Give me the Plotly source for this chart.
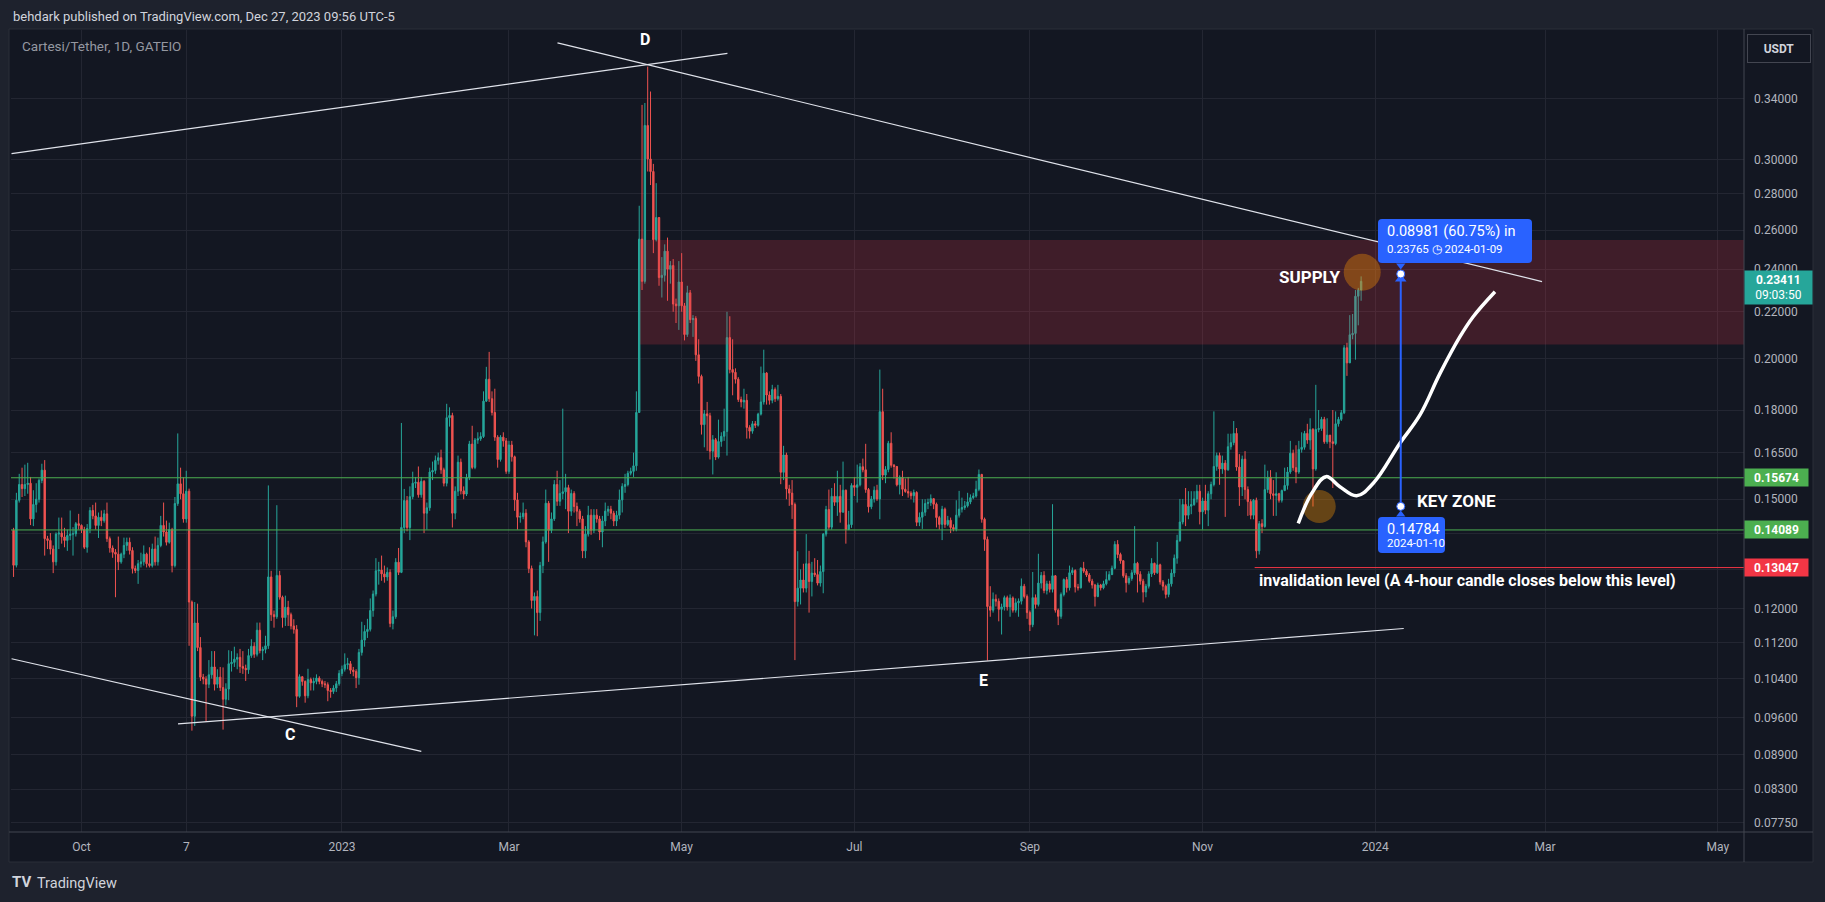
import math
import pandas as pd
import plotly.graph_objects as go

# ---------------- data (daily CTSI/USDT) ----------------
start_date = "2022-09-07"
first_open = 0.1408

close = [
    # Sep 2022 (7-30)
    0.1311, 0.1497, 0.1546, 0.1533, 0.1546, 0.1550, 0.1441, 0.1484, 0.1500, 0.1559, 0.1592, 0.1384,
    0.1379, 0.1355, 0.1320, 0.1397, 0.1400, 0.1389, 0.1379, 0.1393, 0.1397, 0.1398, 0.1427, 0.1422,
    # Oct 2022
    0.1410, 0.1360, 0.1413, 0.1466, 0.1450, 0.1422, 0.1446, 0.1436, 0.1456, 0.1384, 0.1358, 0.1346,
    0.1341, 0.1320, 0.1341, 0.1365, 0.1374, 0.1351, 0.1302, 0.1297, 0.1315, 0.1320, 0.1341, 0.1315,
    0.1310, 0.1355, 0.1320, 0.1365, 0.1422, 0.1403, 0.1374,
    # Nov 2022
    0.1410, 0.1310, 0.1487, 0.1548, 0.1517, 0.1441, 0.1525, 0.1216, 0.0963, 0.1165, 0.1108, 0.1043,
    0.1039, 0.1028, 0.1048, 0.1065, 0.1028, 0.1043, 0.1021, 0.0997, 0.1018, 0.1072, 0.1075, 0.1082,
    0.1086, 0.1066, 0.1062, 0.1059, 0.1090, 0.1111,
    # Dec 2022
    0.1093, 0.1148, 0.1101, 0.1104, 0.1112, 0.1280, 0.1185, 0.1180, 0.1284, 0.1228, 0.1178, 0.1203,
    0.1185, 0.1158, 0.1150, 0.1003, 0.1044, 0.1034, 0.1004, 0.1038, 0.1031, 0.1034, 0.1041, 0.1034,
    0.1029, 0.1027, 0.1015, 0.1013, 0.1020, 0.1029, 0.1051,
    # Jan 2023
    0.1060, 0.1070, 0.1072, 0.1058, 0.1055, 0.1042, 0.1097, 0.1125, 0.1145, 0.1150, 0.1195, 0.1236,
    0.1296, 0.1298, 0.1288, 0.1280, 0.1292, 0.1164, 0.1180, 0.1319, 0.1292, 0.1416, 0.1496, 0.1416,
    0.1508, 0.1550, 0.1553, 0.1514, 0.1556, 0.1458, 0.1474,
    # Feb 2023
    0.1586, 0.1591, 0.1624, 0.1633, 0.1593, 0.1550, 0.1772, 0.1780, 0.1458, 0.1525, 0.1618, 0.1526,
    0.1516, 0.1568, 0.1679, 0.1601, 0.1693, 0.1697, 0.1705, 0.1833, 0.1917, 0.1842, 0.1791, 0.1703,
    0.1627, 0.1703, 0.1690, 0.1588,
    # Mar 2023
    0.1676, 0.1636, 0.1498, 0.1446, 0.1448, 0.1458, 0.1375, 0.1302, 0.1220, 0.1230, 0.1190, 0.1310,
    0.1375, 0.1488, 0.1408, 0.1441, 0.1546, 0.1494, 0.1518, 0.1523, 0.1536, 0.1464, 0.1518, 0.1478,
    0.1464, 0.1441, 0.1350, 0.1397, 0.1452, 0.1408, 0.1452,
    # Apr 2023
    0.1441, 0.1403, 0.1435, 0.1464, 0.1470, 0.1458, 0.1435, 0.1452, 0.1498, 0.1540, 0.1546, 0.1582,
    0.1588, 0.1606, 0.1791, 0.2552, 0.2341, 0.3219, 0.3006, 0.2930, 0.2549, 0.2667, 0.2359, 0.2370,
    0.2490, 0.2400, 0.2418, 0.2235, 0.2227, 0.2338,
    # May 2023
    0.2227, 0.2100, 0.2287, 0.2165, 0.2170, 0.2015, 0.1928, 0.1747, 0.1786, 0.1779, 0.1655, 0.1694,
    0.1635, 0.1688, 0.1706, 0.1723, 0.2087, 0.1955, 0.1944, 0.1917, 0.1839, 0.1830, 0.1836, 0.1737,
    0.1724, 0.1750, 0.1745, 0.1785, 0.1830, 0.1941, 0.1856,
    # Jun 2023
    0.1836, 0.1877, 0.1842, 0.1851, 0.1585, 0.1642, 0.1532, 0.1519, 0.1484, 0.1217, 0.1251, 0.1272,
    0.1251, 0.1315, 0.1268, 0.1290, 0.1286, 0.1264, 0.1294, 0.1397, 0.1469, 0.1417, 0.1509, 0.1491,
    0.1509, 0.1461, 0.1528, 0.1410, 0.1424, 0.1543,
    # Jul 2023
    0.1537, 0.1545, 0.1603, 0.1593, 0.1530, 0.1477, 0.1501, 0.1528, 0.1501, 0.1794, 0.1576, 0.1594,
    0.1682, 0.1608, 0.1604, 0.1545, 0.1569, 0.1531, 0.1524, 0.1519, 0.1511, 0.1521, 0.1431, 0.1446,
    0.1461, 0.1487, 0.1490, 0.1502, 0.1485, 0.1445, 0.1425,
    # Aug 2023
    0.1470, 0.1425, 0.1437, 0.1416, 0.1411, 0.1452, 0.1470, 0.1475, 0.1480, 0.1492, 0.1505, 0.1510,
    0.1531, 0.1578, 0.1440, 0.1382, 0.1205, 0.1196, 0.1223, 0.1218, 0.1198, 0.1204, 0.1227, 0.1204,
    0.1226, 0.1196, 0.1214, 0.1218, 0.1256, 0.1230, 0.1190,
    # Sep 2023
    0.1161, 0.1227, 0.1210, 0.1264, 0.1284, 0.1245, 0.1262, 0.1248, 0.1283, 0.1196, 0.1181, 0.1235,
    0.1273, 0.1252, 0.1291, 0.1297, 0.1254, 0.1252, 0.1303, 0.1295, 0.1285, 0.1269, 0.1259, 0.1230,
    0.1259, 0.1252, 0.1262, 0.1273, 0.1286, 0.1303,
    # Oct 2023
    0.1368, 0.1340, 0.1323, 0.1283, 0.1265, 0.1276, 0.1291, 0.1316, 0.1287, 0.1269, 0.1241, 0.1256,
    0.1288, 0.1316, 0.1291, 0.1312, 0.1267, 0.1256, 0.1235, 0.1262, 0.1290, 0.1330, 0.1379, 0.1432,
    0.1484, 0.1452, 0.1479, 0.1484, 0.1501, 0.1525, 0.1462,
    # Nov 2023
    0.1495, 0.1467, 0.1517, 0.1546, 0.1604, 0.1640, 0.1596, 0.1615, 0.1593, 0.1670, 0.1684, 0.1716,
    0.1602, 0.1538, 0.1628, 0.1530, 0.1493, 0.1452, 0.1497, 0.1350, 0.1427, 0.1419, 0.1530, 0.1569,
    0.1517, 0.1512, 0.1517, 0.1497, 0.1527, 0.1543,
    # Dec 2023 (1-27)
    0.1586, 0.1648, 0.1600, 0.1586, 0.1661, 0.1668, 0.1716, 0.1693, 0.1730, 0.1596, 0.1730, 0.1733,
    0.1766, 0.1687, 0.1710, 0.1687, 0.1681, 0.1750, 0.1766, 0.1790, 0.2044, 0.1982, 0.2099, 0.2105,
    0.2271, 0.2300, 0.23411,
]

high = [
    # Sep 2022
    0.1415, 0.1520, 0.1580, 0.1600, 0.1610, 0.1616, 0.1570, 0.1528, 0.1550, 0.1565, 0.1613, 0.1625,
    0.1392, 0.1400, 0.1365, 0.1402, 0.1445, 0.1445, 0.1415, 0.1410, 0.1466, 0.1417, 0.1432, 0.1456,
    # Oct 2022
    0.1425, 0.1418, 0.1426, 0.1476, 0.1483, 0.1490, 0.1460, 0.1466, 0.1468, 0.1490, 0.1390, 0.1365,
    0.1355, 0.1390, 0.1345, 0.1387, 0.1387, 0.1387, 0.1360, 0.1310, 0.1325, 0.1345, 0.1365, 0.1345,
    0.1360, 0.1370, 0.1390, 0.1387, 0.1450, 0.1490, 0.1436,
    # Nov 2022
    0.1430, 0.1415, 0.1507, 0.1716, 0.1600, 0.1569, 0.1590, 0.1533, 0.1220, 0.1216, 0.1212, 0.1132,
    0.1050, 0.1045, 0.1080, 0.1100, 0.1100, 0.1060, 0.1065, 0.1064, 0.1030, 0.1102, 0.1100, 0.1110,
    0.1095, 0.1105, 0.1100, 0.1070, 0.1105, 0.1127,
    # Dec 2022
    0.1120, 0.1166, 0.1166, 0.1110, 0.1135, 0.1543, 0.1296, 0.1195, 0.1482, 0.1296, 0.1232, 0.1232,
    0.1219, 0.1190, 0.1174, 0.1160, 0.1049, 0.1045, 0.1036, 0.1061, 0.1042, 0.1042, 0.1049, 0.1045,
    0.1038, 0.1035, 0.1032, 0.1020, 0.1026, 0.1035, 0.1058,
    # Jan 2023
    0.1068, 0.1095, 0.1085, 0.1078, 0.1065, 0.1060, 0.1105, 0.1168, 0.1160, 0.1175, 0.1225, 0.1245,
    0.1330, 0.1320, 0.1337, 0.1310, 0.1305, 0.1300, 0.1195, 0.1330, 0.1358, 0.1753, 0.1532, 0.1510,
    0.1540, 0.1587, 0.1570, 0.1604, 0.1570, 0.1560, 0.1490,
    # Feb 2023
    0.1600, 0.1620, 0.1640, 0.1650, 0.1660, 0.1600, 0.1823, 0.1810, 0.1790, 0.1540, 0.1640, 0.1630,
    0.1540, 0.1580, 0.1690, 0.1743, 0.1700, 0.1720, 0.1720, 0.1870, 0.1966, 0.2027, 0.1870, 0.1880,
    0.1710, 0.1710, 0.1720, 0.1700,
    # Mar 2023
    0.1690, 0.1690, 0.1640, 0.1520, 0.1460, 0.1490, 0.1470, 0.1380, 0.1310, 0.1240, 0.1245, 0.1320,
    0.1390, 0.1530, 0.1495, 0.1460, 0.1560, 0.1590, 0.1560, 0.1805, 0.1580, 0.1545, 0.1530, 0.1525,
    0.1490, 0.1470, 0.1450, 0.1420, 0.1480, 0.1470, 0.1470,
    # Apr 2023
    0.1470, 0.1450, 0.1450, 0.1490, 0.1480, 0.1480, 0.1465, 0.1465, 0.1530, 0.1550, 0.1580, 0.1590,
    0.1600, 0.1650, 0.1870, 0.2732, 0.3357, 0.3370, 0.3630, 0.3450, 0.2976, 0.2861, 0.2670, 0.2460,
    0.2525, 0.2560, 0.2440, 0.2450, 0.2260, 0.2440,
    # May 2023
    0.2480, 0.2240, 0.2320, 0.2300, 0.2185, 0.2180, 0.2080, 0.1935, 0.1800, 0.1830, 0.1790, 0.1710,
    0.1700, 0.1765, 0.1720, 0.1805, 0.2200, 0.2180, 0.2080, 0.1960, 0.1925, 0.1850, 0.1880, 0.1860,
    0.1745, 0.1760, 0.1760, 0.1790, 0.1967, 0.2036, 0.1945,
    # Jun 2023
    0.1870, 0.1895, 0.1885, 0.1895, 0.1860, 0.1673, 0.1650, 0.1545, 0.1560, 0.1490, 0.1349, 0.1300,
    0.1315, 0.1397, 0.1350, 0.1320, 0.1330, 0.1325, 0.1310, 0.1400, 0.1480, 0.1530, 0.1535, 0.1550,
    0.1590, 0.1545, 0.1620, 0.1530, 0.1465, 0.1550,
    # Jul 2023
    0.1570, 0.1610, 0.1615, 0.1630, 0.1680, 0.1535, 0.1510, 0.1540, 0.1545, 0.1955, 0.1880, 0.1605,
    0.1690, 0.1720, 0.1612, 0.1605, 0.1575, 0.1590, 0.1565, 0.1570, 0.1525, 0.1530, 0.1525, 0.1460,
    0.1500, 0.1500, 0.1502, 0.1515, 0.1500, 0.1490, 0.1450,
    # Aug 2023
    0.1480, 0.1475, 0.1450, 0.1445, 0.1425, 0.1497, 0.1526, 0.1505, 0.1495, 0.1520, 0.1515, 0.1520,
    0.1558, 0.1594, 0.1580, 0.1445, 0.1390, 0.1256, 0.1240, 0.1235, 0.1225, 0.1212, 0.1232, 0.1232,
    0.1235, 0.1230, 0.1225, 0.1225, 0.1276, 0.1262, 0.1235,
    # Sep 2023
    0.1195, 0.1293, 0.1235, 0.1342, 0.1293, 0.1295, 0.1270, 0.1270, 0.1485, 0.1285, 0.1200, 0.1240,
    0.1276, 0.1280, 0.1310, 0.1305, 0.1300, 0.1262, 0.1306, 0.1320, 0.1300, 0.1290, 0.1275, 0.1262,
    0.1265, 0.1262, 0.1270, 0.1295, 0.1295, 0.1310,
    # Oct 2023
    0.1377, 0.1380, 0.1345, 0.1325, 0.1290, 0.1282, 0.1298, 0.1420, 0.1320, 0.1295, 0.1275, 0.1262,
    0.1295, 0.1330, 0.1318, 0.1375, 0.1315, 0.1272, 0.1260, 0.1275, 0.1300, 0.1340, 0.1395, 0.1501,
    0.1501, 0.1535, 0.1525, 0.1525, 0.1525, 0.1545, 0.1545,
    # Nov 2023
    0.1505, 0.1545, 0.1525, 0.1555, 0.1795, 0.1650, 0.1650, 0.1640, 0.1625, 0.1715, 0.1715, 0.1760,
    0.1735, 0.1645, 0.1640, 0.1655, 0.1540, 0.1500, 0.1501, 0.1505, 0.1435, 0.1440, 0.1610, 0.1590,
    0.1592, 0.1560, 0.1585, 0.1520, 0.1530, 0.1600,
    # Dec 2023
    0.1602, 0.1690, 0.1660, 0.1675, 0.1690, 0.1720, 0.1725, 0.1750, 0.1770, 0.1735, 0.1895, 0.1800,
    0.1775, 0.1775, 0.1770, 0.1710, 0.1800, 0.1795, 0.1775, 0.1800, 0.2055, 0.2065, 0.2185, 0.2190,
    0.2300, 0.2310, 0.2365,
]

low = [
    # Sep 2022
    0.1280, 0.1305, 0.1490, 0.1507, 0.1510, 0.1517, 0.1423, 0.1420, 0.1460, 0.1490, 0.1550, 0.1337,
    0.1355, 0.1340, 0.1290, 0.1310, 0.1355, 0.1370, 0.1360, 0.1350, 0.1380, 0.1337, 0.1390, 0.1410,
    # Oct 2022
    0.1400, 0.1355, 0.1345, 0.1400, 0.1440, 0.1410, 0.1386, 0.1420, 0.1430, 0.1375, 0.1345, 0.1331,
    0.1228, 0.1298, 0.1315, 0.1330, 0.1350, 0.1340, 0.1289, 0.1290, 0.1262, 0.1305, 0.1310, 0.1305,
    0.1305, 0.1305, 0.1310, 0.1310, 0.1360, 0.1390, 0.1365,
    # Nov 2022
    0.1370, 0.1292, 0.1305, 0.1480, 0.1500, 0.1430, 0.1430, 0.1112, 0.0935, 0.0944, 0.1100, 0.1035,
    0.1028, 0.0953, 0.1020, 0.1040, 0.1015, 0.1020, 0.1014, 0.0937, 0.0985, 0.0995, 0.1055, 0.1065,
    0.1060, 0.1052, 0.1050, 0.1035, 0.1050, 0.1085,
    # Dec 2022
    0.1085, 0.1088, 0.1095, 0.1080, 0.1095, 0.1105, 0.1170, 0.1154, 0.1175, 0.1222, 0.1154, 0.1158,
    0.1158, 0.1150, 0.1140, 0.0981, 0.1000, 0.1025, 0.0990, 0.0999, 0.1015, 0.1015, 0.1028, 0.1028,
    0.1022, 0.1020, 0.0993, 0.1000, 0.1008, 0.1012, 0.1025,
    # Jan 2023
    0.1045, 0.1055, 0.1060, 0.1050, 0.1045, 0.1020, 0.1027, 0.1090, 0.1110, 0.1130, 0.1145, 0.1180,
    0.1230, 0.1260, 0.1270, 0.1265, 0.1270, 0.1155, 0.1150, 0.1175, 0.1285, 0.1290, 0.1400, 0.1405,
    0.1380, 0.1500, 0.1535, 0.1505, 0.1505, 0.1400, 0.1410,
    # Feb 2023
    0.1465, 0.1560, 0.1580, 0.1610, 0.1580, 0.1540, 0.1540, 0.1740, 0.1416, 0.1440, 0.1510, 0.1515,
    0.1500, 0.1510, 0.1560, 0.1595, 0.1595, 0.1680, 0.1690, 0.1700, 0.1830, 0.1830, 0.1780, 0.1690,
    0.1600, 0.1620, 0.1670, 0.1580,
    # Mar 2023
    0.1580, 0.1620, 0.1465, 0.1410, 0.1430, 0.1440, 0.1360, 0.1290, 0.1200, 0.1136, 0.1134, 0.1170,
    0.1290, 0.1370, 0.1320, 0.1400, 0.1435, 0.1480, 0.1480, 0.1500, 0.1470, 0.1400, 0.1450, 0.1460,
    0.1420, 0.1430, 0.1330, 0.1330, 0.1390, 0.1395, 0.1400,
    # Apr 2023
    0.1430, 0.1380, 0.1360, 0.1420, 0.1450, 0.1440, 0.1420, 0.1420, 0.1440, 0.1460, 0.1520, 0.1540,
    0.1575, 0.1570, 0.1590, 0.1790, 0.2300, 0.2330, 0.2930, 0.2850, 0.2480, 0.2540, 0.2320, 0.2265,
    0.2340, 0.2250, 0.2330, 0.2200, 0.2150, 0.2120,
    # May 2023
    0.2200, 0.2075, 0.2090, 0.2150, 0.2090, 0.1990, 0.1900, 0.1712, 0.1668, 0.1656, 0.1627, 0.1578,
    0.1625, 0.1630, 0.1670, 0.1690, 0.1640, 0.1940, 0.1855, 0.1900, 0.1830, 0.1810, 0.1805, 0.1698,
    0.1698, 0.1715, 0.1735, 0.1740, 0.1780, 0.1820, 0.1820,
    # Jun 2023
    0.1820, 0.1825, 0.1830, 0.1835, 0.1547, 0.1560, 0.1500, 0.1480, 0.1441, 0.1080, 0.1205, 0.1210,
    0.1240, 0.1240, 0.1190, 0.1230, 0.1280, 0.1258, 0.1255, 0.1238, 0.1390, 0.1410, 0.1410, 0.1480,
    0.1450, 0.1430, 0.1460, 0.1370, 0.1410, 0.1415,
    # Jul 2023
    0.1510, 0.1490, 0.1540, 0.1585, 0.1520, 0.1460, 0.1470, 0.1490, 0.1495, 0.1440, 0.1560, 0.1550,
    0.1585, 0.1600, 0.1565, 0.1540, 0.1515, 0.1510, 0.1520, 0.1505, 0.1500, 0.1490, 0.1420, 0.1420,
    0.1412, 0.1450, 0.1470, 0.1480, 0.1470, 0.1416, 0.1410,
    # Aug 2023
    0.1380, 0.1415, 0.1420, 0.1400, 0.1405, 0.1405, 0.1445, 0.1460, 0.1468, 0.1475, 0.1485, 0.1500,
    0.1505, 0.1525, 0.1430, 0.1350, 0.1079, 0.1180, 0.1190, 0.1205, 0.1169, 0.1138, 0.1195, 0.1195,
    0.1180, 0.1190, 0.1190, 0.1180, 0.1210, 0.1225, 0.1175,
    # Sep 2023
    0.1146, 0.1155, 0.1200, 0.1205, 0.1250, 0.1238, 0.1235, 0.1240, 0.1240, 0.1190, 0.1160, 0.1175,
    0.1230, 0.1240, 0.1245, 0.1285, 0.1240, 0.1245, 0.1250, 0.1290, 0.1280, 0.1265, 0.1250, 0.1205,
    0.1228, 0.1245, 0.1248, 0.1258, 0.1270, 0.1285,
    # Oct 2023
    0.1300, 0.1330, 0.1315, 0.1278, 0.1240, 0.1260, 0.1270, 0.1285, 0.1240, 0.1260, 0.1215, 0.1228,
    0.1250, 0.1280, 0.1285, 0.1288, 0.1260, 0.1245, 0.1225, 0.1228, 0.1255, 0.1280, 0.1315, 0.1375,
    0.1425, 0.1420, 0.1440, 0.1455, 0.1480, 0.1490, 0.1425,
    # Nov 2023
    0.1410, 0.1455, 0.1420, 0.1500, 0.1540, 0.1590, 0.1545, 0.1580, 0.1447, 0.1590, 0.1660, 0.1675,
    0.1590, 0.1480, 0.1510, 0.1500, 0.1450, 0.1440, 0.1440, 0.1330, 0.1340, 0.1400, 0.1415, 0.1520,
    0.1500, 0.1450, 0.1450, 0.1490, 0.1490, 0.1525,
    # Dec 2023
    0.1530, 0.1580, 0.1590, 0.1550, 0.1580, 0.1650, 0.1660, 0.1680, 0.1660, 0.1478, 0.1590, 0.1720,
    0.1725, 0.1680, 0.1680, 0.1665, 0.1535, 0.1675, 0.1740, 0.1760, 0.1785, 0.1930, 0.1990, 0.2080,
    0.1995, 0.2140, 0.2250,
]

# price levels and drawing anchors (dates / prices)
level_upper = 0.15674
level_lower = 0.14089
level_invalid = 0.13047
last_price = 0.23411
supply_low, supply_high = 0.2058, 0.2547
supply_start = "2023-04-16 06:40"
invalid_start = "2023-11-19 09:30"
measure_date = "2024-01-10"
measure_from, measure_to = 0.14784, 0.23765
measure_change, measure_pct = 0.08981, 60.75

trend_lines = [
    (["2022-09-06 07:00", "2023-05-17 04:00"], [0.3039, 0.3729]),
    (["2023-03-18 03:20", "2024-02-28 21:40"], [0.3810, 0.2340]),
    (["2022-09-06 07:00", "2023-01-29 00:40"], [0.1083, 0.08962]),
    (["2022-11-04 02:10", "2024-01-11 01:10"], [0.09479, 0.1152]),
]
curve_dates = ["2023-12-04 19:00", "2023-12-09 13:00", "2023-12-14 14:00", "2023-12-19 12:00",
               "2023-12-25 10:00", "2023-12-31 07:00", "2024-01-09 17:00", "2024-01-16 19:00",
               "2024-01-23 21:00", "2024-01-30 22:00", "2024-02-04 14:00", "2024-02-12 07:00"]
curve_prices = [0.1428, 0.1518, 0.1571, 0.1539, 0.1511, 0.1550, 0.1682, 0.1782,
                0.1940, 0.2091, 0.2178, 0.2292]
circle_dates = ["2023-12-27 09:30", "2023-12-12 05:00"]
circle_prices = [0.2385, 0.1478]
circle_sizes = [37, 33]

y_ticks = [0.34, 0.30, 0.28, 0.26, 0.24, 0.22, 0.20, 0.18, 0.165, 0.15, 0.14, 0.13,
           0.12, 0.112, 0.104, 0.096, 0.089, 0.083, 0.0775]
y_hidden_labels = [0.14, 0.13]   # covered by the price tags in the original
x_ticks = ["2022-10-01", "2022-11-07", "2023-01-01", "2023-03-01", "2023-05-01", "2023-07-01",
           "2023-09-01", "2023-11-01", "2024-01-01", "2024-03-01", "2024-05-01"]
x_tick_text = ["Oct", "7", "2023", "Mar", "May", "Jul", "Sep", "Nov", "2024", "Mar", "May"]

X_START, X_END = "2022-09-06 02:20", "2024-05-10 06:00"
P_BOTTOM, P_TOP = 0.07602, 0.3912

# ---------------- style ----------------
W, H = 1825, 902
PL, PR, PT, PB = 11, 1744, 30, 832
UP, DOWN = "#26a69a", "#ef5350"
BG, PAGE = "#131722", "#1e222d"
GRID = "#232632"
TXT = "#d1d4dc"
AX = "#b2b5be"
BLUE = "#2962ff"
FONT = "Roboto"


def px(x):
    return (x - PL) / (PR - PL)


def py(y):
    return (PB - y) / (PB - PT)


def ly(p):
    return math.log10(p)


def rounded_box(x0, y0, x1, y1, r):
    pts = [("M", x0 + r, y0), ("L", x1 - r, y0), ("Q", x1, y0, x1, y0 + r), ("L", x1, y1 - r),
           ("Q", x1, y1, x1 - r, y1), ("L", x0 + r, y1), ("Q", x0, y1, x0, y1 - r),
           ("L", x0, y0 + r), ("Q", x0, y0, x0 + r, y0)]
    out = []
    for p in pts:
        cmd, coords = p[0], p[1:]
        pairs = ["%.6f,%.6f" % (px(coords[i]), py(coords[i + 1])) for i in range(0, len(coords), 2)]
        out.append(cmd + " ".join(pairs))
    return " ".join(out) + " Z"


dates = pd.date_range(start_date, periods=len(close), freq="D")
opens = [first_open] + close[:-1]
hi = [max(h, o, c) for h, o, c in zip(high, opens, close)]
lo = [min(l, o, c) for l, o, c in zip(low, opens, close)]

fig = go.Figure()

# supply zone
fig.add_trace(go.Scatter(
    x=[supply_start, X_END, X_END, supply_start, supply_start],
    y=[supply_low, supply_low, supply_high, supply_high, supply_low],
    mode="lines", fill="toself", fillcolor="rgba(242,54,69,0.2)",
    line=dict(width=0), hoverinfo="skip"))

# candles
fig.add_trace(go.Candlestick(
    x=dates, open=opens, high=hi, low=lo, close=close,
    increasing=dict(line=dict(color=UP, width=1), fillcolor=UP),
    decreasing=dict(line=dict(color=DOWN, width=1), fillcolor=DOWN),
    whiskerwidth=0, hoverinfo="skip"))

# horizontal levels
for lvl in (level_upper, level_lower):
    fig.add_trace(go.Scatter(x=[X_START, X_END], y=[lvl, lvl], mode="lines",
                             line=dict(color="#4caf50", width=1), hoverinfo="skip"))
fig.add_trace(go.Scatter(x=[invalid_start, X_END], y=[level_invalid, level_invalid], mode="lines",
                         line=dict(color="#f23645", width=1), hoverinfo="skip"))

# trend lines
for xs, ys in trend_lines:
    fig.add_trace(go.Scatter(x=xs, y=ys, mode="lines",
                             line=dict(color="#e0e3eb", width=1.2), hoverinfo="skip"))

# circles
fig.add_trace(go.Scatter(x=circle_dates, y=circle_prices, mode="markers",
                         marker=dict(size=circle_sizes, color="rgba(255,152,0,0.5)",
                                     line=dict(width=0)),
                         hoverinfo="skip"))

# hand drawn projection
fig.add_trace(go.Scatter(x=curve_dates, y=curve_prices, mode="lines",
                         line=dict(color="white", width=3.5, shape="spline", smoothing=1.1),
                         hoverinfo="skip"))

# measure tool
fig.add_trace(go.Scatter(x=[measure_date, measure_date], y=[measure_from, measure_to], mode="lines",
                         line=dict(color=BLUE, width=2), hoverinfo="skip"))
fig.add_trace(go.Scatter(x=[measure_date], y=[0.2352], mode="markers",
                         marker=dict(symbol="triangle-up", size=10, color=BLUE), hoverinfo="skip"))
fig.add_trace(go.Scatter(x=[measure_date, measure_date], y=[0.2418, 0.1454], mode="markers",
                         marker=dict(symbol=["triangle-down", "triangle-up"], size=8, color=BLUE),
                         hoverinfo="skip"))
fig.add_trace(go.Scatter(x=[measure_date, measure_date], y=[measure_to, measure_from], mode="markers",
                         marker=dict(size=8, color="white", line=dict(color=BLUE, width=1)),
                         hoverinfo="skip"))

ann = []
# header texts
ann.append(dict(xref="paper", yref="paper", x=px(11), y=py(16), xanchor="left", yanchor="middle",
                text="behdark published on TradingView.com, Dec 27, 2023 09:56 UTC-5",
                font=dict(family=FONT, size=13, color=TXT), showarrow=False))
ann.append(dict(xref="paper", yref="paper", x=px(20), y=py(46), xanchor="left", yanchor="middle",
                text="Cartesi/Tether, 1D, GATEIO",
                font=dict(family=FONT, size=13.5, color="#9598a1"), showarrow=False))
# pattern labels
for t, d, p in (("D", "2023-04-18", 0.3833), ("C", "2022-12-13 15:00", 0.09286),
                ("E", "2023-08-15 14:00", 0.1035)):
    ann.append(dict(x=d, y=ly(p), text="<b>%s</b>" % t, showarrow=False,
                    font=dict(family=FONT, size=16, color="white")))
ann.append(dict(x="2023-12-08 22:00", y=ly(0.2362), text="<b>SUPPLY</b>", showarrow=False,
                font=dict(family=FONT, size=17, color="white")))
ann.append(dict(x="2024-01-29 14:00", y=ly(0.1495), text="<b>KEY ZONE</b>", showarrow=False,
                font=dict(family=FONT, size=17, color="white")))
ann.append(dict(x="2023-11-20 02:00", y=ly(0.1270), xanchor="left",
                text="<b>invalidation level (A 4-hour candle closes below this level)</b>",
                showarrow=False, font=dict(family=FONT, size=16, color="white")))
# measure box texts
ann.append(dict(xref="paper", yref="paper", x=px(1385), y=py(231.5), xanchor="left", yanchor="middle",
                text="%.5f (%.2f%%) in" % (measure_change, measure_pct), showarrow=False,
                font=dict(family=FONT, size=14.5, color="white")))
ann.append(dict(xref="paper", yref="paper", x=px(1385), y=py(249), xanchor="left", yanchor="middle",
                text="%.5f \u25F7 2024-01-09" % measure_to, showarrow=False,
                font=dict(family=FONT, size=11.5, color="white")))
ann.append(dict(xref="paper", yref="paper", x=px(1385), y=py(529), xanchor="left", yanchor="middle",
                text="%.5f" % measure_from, showarrow=False,
                font=dict(family=FONT, size=14.5, color="white")))
ann.append(dict(xref="paper", yref="paper", x=px(1385), y=py(542.5), xanchor="left", yanchor="middle",
                text="2024-01-10", showarrow=False,
                font=dict(family=FONT, size=11.5, color="white")))
# price tags on the axis
for p, col in ((level_upper, "#4caf50"), (level_lower, "#4caf50"), (level_invalid, "#f23645")):
    ann.append(dict(xref="paper", x=1, xanchor="left", y=ly(p), yanchor="middle",
                    text="<b>%.5f</b>" % p, width=59, height=13, borderpad=2, bgcolor=col,
                    showarrow=False, font=dict(family=FONT, size=12, color="white")))
ann.append(dict(xref="paper", x=1, xanchor="left", y=ly(last_price), yanchor="middle", yshift=-6,
                text="<b>%.5f</b><br>09:03:50" % last_price, width=63, height=29, borderpad=2,
                bgcolor=UP, showarrow=False, font=dict(family=FONT, size=12, color="white")))
# USDT button
ann.append(dict(xref="paper", yref="paper", x=px(1779), y=py(48.5), xanchor="center", yanchor="middle",
                text="<b>USDT</b>", width=56, height=21, borderpad=3, borderwidth=1,
                bordercolor="#434651", showarrow=False, font=dict(family=FONT, size=12, color=TXT)))
# footer logo
ann.append(dict(xref="paper", yref="paper", x=px(10), y=py(882), xanchor="left", yanchor="middle",
                text="<b>TV</b>", showarrow=False, font=dict(family=FONT, size=15, color=TXT)))
ann.append(dict(xref="paper", yref="paper", x=px(35), y=py(883), xanchor="left", yanchor="middle",
                text="TradingView", showarrow=False, font=dict(family=FONT, size=14.5, color=TXT)))

shapes = [
    dict(type="rect", xref="paper", yref="paper", x0=px(9), x1=px(1813), y0=py(862), y1=py(29),
         fillcolor=BG, line=dict(color="#2a2e39", width=1), layer="below"),
    dict(type="line", xref="paper", yref="paper", x0=px(9), x1=px(1813), y0=py(832), y1=py(832),
         line=dict(color="#434651", width=1)),
    dict(type="line", xref="paper", yref="paper", x0=px(1744), x1=px(1744), y0=py(862), y1=py(29),
         line=dict(color="#434651", width=1)),
    dict(type="path", xref="paper", yref="paper", path=rounded_box(1378, 219, 1532, 263, 4),
         fillcolor=BLUE, line=dict(width=0)),
    dict(type="path", xref="paper", yref="paper", path=rounded_box(1378, 517, 1445, 553, 4),
         fillcolor=BLUE, line=dict(width=0)),
]

fig.update_layout(
    width=W, height=H, autosize=False,
    margin=dict(l=PL, r=W - PR, t=PT, b=H - PB, pad=0),
    paper_bgcolor=PAGE, plot_bgcolor=BG,
    showlegend=False, hovermode=False,
    annotations=ann, shapes=shapes,
    font=dict(family=FONT),
    xaxis=dict(type="date", range=[X_START, X_END], rangeslider=dict(visible=False),
               tickmode="array", tickvals=x_ticks, ticktext=x_tick_text,
               showgrid=True, gridcolor=GRID, gridwidth=1, zeroline=False, showline=False,
               ticks="", ticklabelstandoff=6, automargin=False,
               tickfont=dict(family=FONT, size=12, color=AX)),
    yaxis=dict(type="log", range=[math.log10(P_BOTTOM), math.log10(P_TOP)], side="right",
               tickmode="array", tickvals=y_ticks,
               ticktext=["" if v in y_hidden_labels else "%.5f" % v for v in y_ticks],
               showgrid=True, gridcolor=GRID, gridwidth=1, zeroline=False, showline=False,
               ticks="", ticklabelstandoff=9, automargin=False,
               tickfont=dict(family=FONT, size=12, color=AX)),
)

fig.write_html("out.html", config={"displayModeBar": False, "staticPlot": True},
               post_script="document.body.style.margin='0';document.body.style.overflow='hidden';"
                           "document.body.style.background='%s';" % PAGE)
